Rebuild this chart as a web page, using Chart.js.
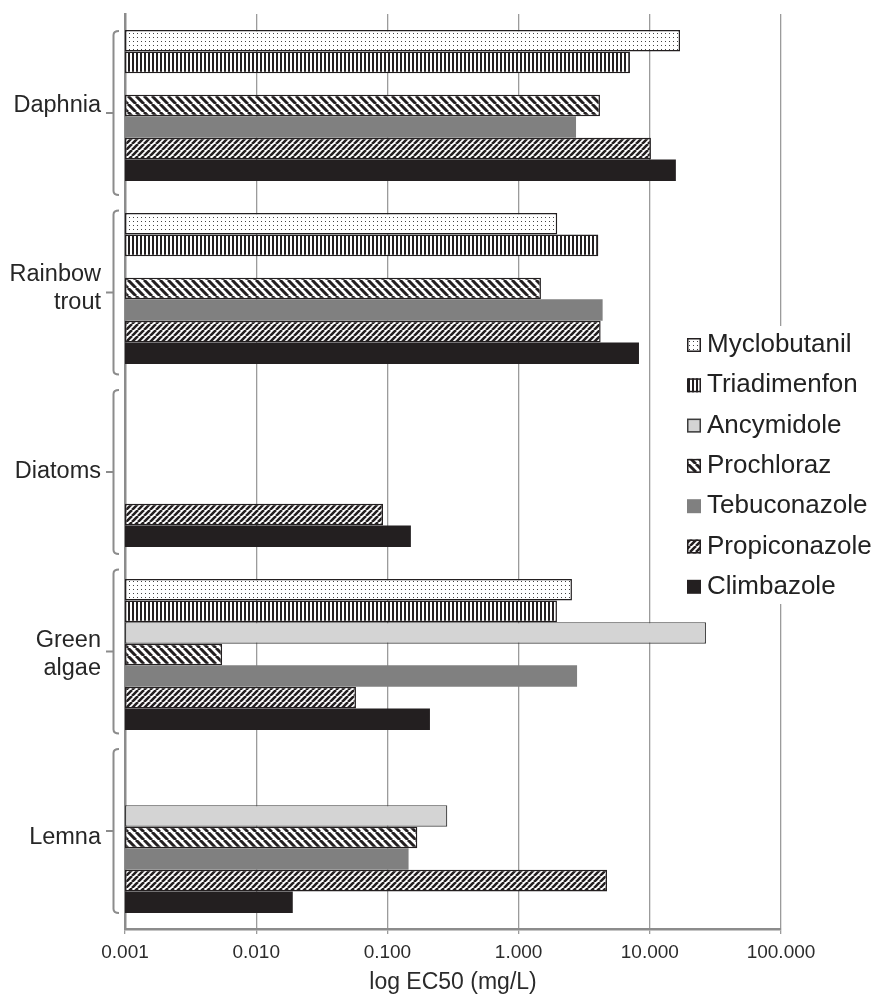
<!DOCTYPE html>
<html>
<head>
<meta charset="utf-8">
<title>log EC50 by organism</title>
<script src="https://cdn.jsdelivr.net/npm/chart.js@4.4.1/dist/chart.umd.min.js"></script>
<style>
  html, body { margin: 0; padding: 0; background: #fff; }
  #wrap { width: 879px; height: 996px; }
</style>
</head>
<body>
<div id="wrap"><canvas id="ec50Chart" width="879" height="996"></canvas></div>
<script>
// organisms on the y axis, top to bottom
const categories = ['Daphnia', ['Rainbow', 'trout'], 'Diatoms', ['Green', 'algae'], 'Lemna'];

// EC50 in mg/L per organism (null = no bar)
const myclobutanil  = [17.0, 1.97, null, 2.55, null];
const triadimenfon  = [7.06, 4.05, null, 1.96, null];
const ancymidole    = [null, null, null, 26.8, 0.286];
const prochloraz    = [4.17, 1.48, null, 0.0055, 0.169];
const tebuconazole  = [2.74, 4.37, null, 2.79, 0.145];
const propiconazole = [10.2, 4.22, 0.0926, 0.0576, 4.72];
const climbazole    = [15.8, 8.27, 0.151, 0.211, 0.0190];

const tickValues = [0.001, 0.01, 0.1, 1, 10, 100];
const tickLabels = ['0.001', '0.010', '0.100', '1.000', '10.000', '100.000'];

const ink = '#231f20';
const FONT = '"Liberation Sans", Arial, sans-serif';
Chart.defaults.font.family = FONT;

const canvas = document.getElementById('ec50Chart');
const mainCtx = canvas.getContext('2d');

// small tiles used as bar fills
function makePattern(size, draw) {
    const c = document.createElement('canvas');
    c.width = size;
    c.height = size;
    const g = c.getContext('2d');
    g.fillStyle = '#fff';
    g.fillRect(0, 0, size, size);
    draw(g, size);
    return mainCtx.createPattern(c, 'repeat');
}

function diagonal(size, lw, up) {
    return makePattern(size, (g, s) => {
        g.strokeStyle = ink;
        g.lineWidth = lw;
        g.beginPath();
        for (let k = -1; k <= 1; k++) {
            if (up) {
                g.moveTo(k * s, s);
                g.lineTo(k * s + s, 0);
            } else {
                g.moveTo(k * s, 0);
                g.lineTo(k * s + s, s);
            }
        }
        g.stroke();
    });
}

const dots = makePattern(4, g => {
    g.fillStyle = '#444';
    g.fillRect(1, 1, 1, 1);
});
const vstripes = makePattern(4, g => {
    g.fillStyle = ink;
    g.fillRect(0, 0, 2, 4);
});
const downHatch = diagonal(8, 3, false);
const upHatch = diagonal(6, 2.6, true);

// brackets next to the category labels + legend over the plot
const decorations = {
    id: 'decorations',
    afterDraw(chart) {
        const { ctx, chartArea, scales: { y } } = chart;
        ctx.save();

        ctx.strokeStyle = '#8c8c8c';
        ctx.lineWidth = 2;
        const bx = chartArea.left - 11.5;
        categories.forEach((c, i) => {
            const mid = y.getPixelForValue(i) + 7.5 - 3.5 * i;
            const top = mid - 82, bot = mid + 82;
            ctx.beginPath();
            ctx.moveTo(bx + 5.5, top);
            ctx.quadraticCurveTo(bx, top, bx, top + 4);
            ctx.lineTo(bx, bot - 4);
            ctx.quadraticCurveTo(bx, bot, bx + 5.5, bot);
            ctx.moveTo(bx - 7.5, mid);
            ctx.lineTo(bx, mid);
            ctx.stroke();
        });

        // legend
        const lx = 687, ly0 = 345, gap = 40.3;
        ctx.fillStyle = '#fff';
        ctx.fillRect(682, 326, chart.width - 682, 278);
        ctx.font = '26px ' + FONT;
        ctx.textBaseline = 'middle';
        ctx.textAlign = 'left';
        chart.data.datasets.forEach((ds, i) => {
            const cy = ly0 + gap * i;
            ctx.fillStyle = ds.backgroundColor;
            ctx.fillRect(lx, cy - 7, 14, 14);
            if (ds.borderWidth) {
                ctx.strokeStyle = ds.borderColor;
                ctx.lineWidth = 1.5;
                ctx.strokeRect(lx + 0.75, cy - 6.25, 12.5, 12.5);
            }
            ctx.fillStyle = '#222';
            ctx.fillText(ds.label, 707, cy);
        });
        ctx.restore();
    }
};

new Chart(canvas, {
    type: 'bar',
    data: {
        labels: categories,
        datasets: [
            { label: 'Myclobutanil', data: myclobutanil, backgroundColor: dots, borderColor: ink, borderWidth: 1.5 },
            { label: 'Triadimenfon', data: triadimenfon, backgroundColor: vstripes, borderColor: ink, borderWidth: 1.5 },
            { label: 'Ancymidole', data: ancymidole, backgroundColor: '#d4d4d4', borderColor: '#3c3c3c', borderWidth: 1.2 },
            { label: 'Prochloraz', data: prochloraz, backgroundColor: downHatch, borderColor: ink, borderWidth: 1.5 },
            { label: 'Tebuconazole', data: tebuconazole, backgroundColor: '#808080', borderColor: '#808080', borderWidth: 0 },
            { label: 'Propiconazole', data: propiconazole, backgroundColor: upHatch, borderColor: ink, borderWidth: 1.5 },
            { label: 'Climbazole', data: climbazole, backgroundColor: ink, borderColor: ink, borderWidth: 0 }
        ]
    },
    options: {
        indexAxis: 'y',
        responsive: false,
        animation: false,
        layout: { padding: { top: 14, right: 98, left: 0, bottom: 0 } },
        datasets: { bar: { categoryPercentage: 0.825, barPercentage: 1.0, borderSkipped: false } },
        plugins: {
            legend: { display: false },
            tooltip: { enabled: false }
        },
        scales: {
            x: {
                type: 'logarithmic',
                min: 0.001,
                max: 100,
                afterBuildTicks: scale => {
                    scale.ticks = tickValues.map(v => ({ value: v }));
                },
                afterFit: scale => {
                    scale.height = 67;
                    scale.paddingLeft = 0;
                    scale.paddingRight = 0;
                },
                ticks: {
                    callback: (value, index) => tickLabels[index],
                    font: { size: 19 },
                    color: '#2b2b2b',
                    padding: 7,
                    maxRotation: 0,
                    autoSkip: false
                },
                grid: { color: '#9b9b9b', lineWidth: 1.3, tickLength: 5, drawTicks: true },
                border: { color: '#8c8c8c', width: 2.5 },
                title: {
                    display: true,
                    text: 'log EC50 (mg/L)',
                    font: { size: 23 },
                    color: '#2b2b2b',
                    padding: { top: 0, bottom: 0 }
                }
            },
            y: {
                ticks: { font: { size: 23.5 }, color: '#262626', padding: 16 },
                grid: { display: false },
                border: { display: true, color: '#8c8c8c', width: 2.5 },
                afterFit: scale => {
                    // keep the label padding from pushing the plot down
                    scale.width = 125;
                    scale.paddingTop = 0;
                    scale.paddingBottom = 0;
                }
            }
        }
    },
    plugins: [decorations]
});
</script>
</body>
</html>
